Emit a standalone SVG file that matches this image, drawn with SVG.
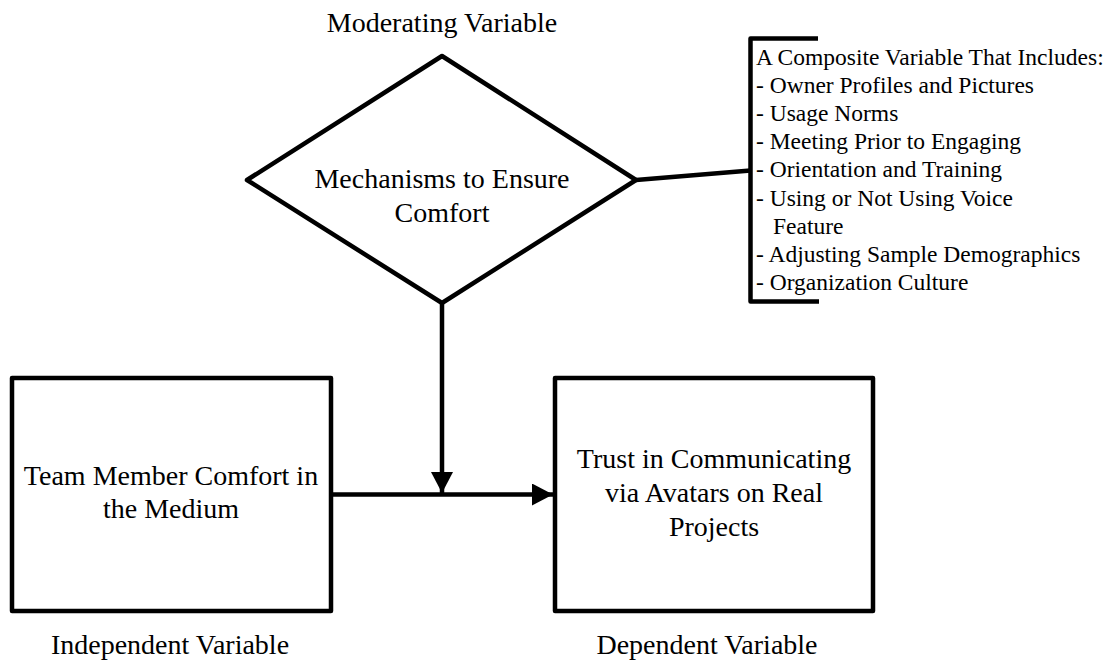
<svg xmlns="http://www.w3.org/2000/svg" width="1113" height="661" viewBox="0 0 1113 661">
<style>
.shape{fill:#fff;stroke:#000;stroke-width:4.5;stroke-linejoin:round}
.ln{fill:none;stroke:#000;stroke-width:4.5;stroke-linecap:butt}
.t{font-family:"Liberation Serif","Times New Roman",serif;font-size:28px;fill:#000;text-anchor:middle}
.s{font-family:"Liberation Serif","Times New Roman",serif;font-size:23.5px;fill:#000}
</style>
<defs>
<marker id="arr" markerUnits="userSpaceOnUse" markerWidth="22" markerHeight="22" viewBox="0 0 22 22" refX="21" refY="11" orient="auto">
<path d="M0,0 L21,11 L0,22 Z" fill="#000"/>
</marker>
</defs>
<rect width="1113" height="661" fill="#fff"/>
<g id="connectors">
<line class="ln" x1="442" y1="303" x2="442" y2="493" marker-end="url(#arr)"/>
<line class="ln" x1="331" y1="494.5" x2="553" y2="494.5" marker-end="url(#arr)"/>
<line class="ln" x1="636" y1="180" x2="750.5" y2="170.5"/>
</g>
<g id="moderator">
<text class="t" x="442" y="32">Moderating Variable</text>
<polygon class="shape" points="442,56 636,180 442,303 247,180"/>
<text class="t" x="442" y="188">Mechanisms to Ensure</text>
<text class="t" x="442" y="222">Comfort</text>
</g>
<g id="composite">
<path class="ln" d="M818,38.5 H750.5 V301.5 H819" stroke-linejoin="round" stroke-width="5"/>
<text class="s" x="756" y="64.5">A Composite Variable That Includes:</text>
<text class="s" x="756" y="92.7">- Owner Profiles and Pictures</text>
<text class="s" x="756" y="120.9">- Usage Norms</text>
<text class="s" x="756" y="149.1">- Meeting Prior to Engaging</text>
<text class="s" x="756" y="177.3">- Orientation and Training</text>
<text class="s" x="756" y="205.5">- Using or Not Using Voice</text>
<text class="s" x="773" y="233.7">Feature</text>
<text class="s" x="756" y="261.9">- Adjusting Sample Demographics</text>
<text class="s" x="756" y="290.1">- Organization Culture</text>
</g>
<g id="independent">
<rect class="shape" x="12" y="378" width="319" height="233"/>
<text class="t" x="171" y="485">Team Member Comfort in</text>
<text class="t" x="171" y="518">the Medium</text>
<text class="t" x="170" y="654">Independent Variable</text>
</g>
<g id="dependent">
<rect class="shape" x="555" y="378" width="318" height="233"/>
<text class="t" x="714" y="468">Trust in Communicating</text>
<text class="t" x="714" y="502">via Avatars on Real</text>
<text class="t" x="714" y="536">Projects</text>
<text class="t" x="707" y="654">Dependent Variable</text>
</g>
</svg>
